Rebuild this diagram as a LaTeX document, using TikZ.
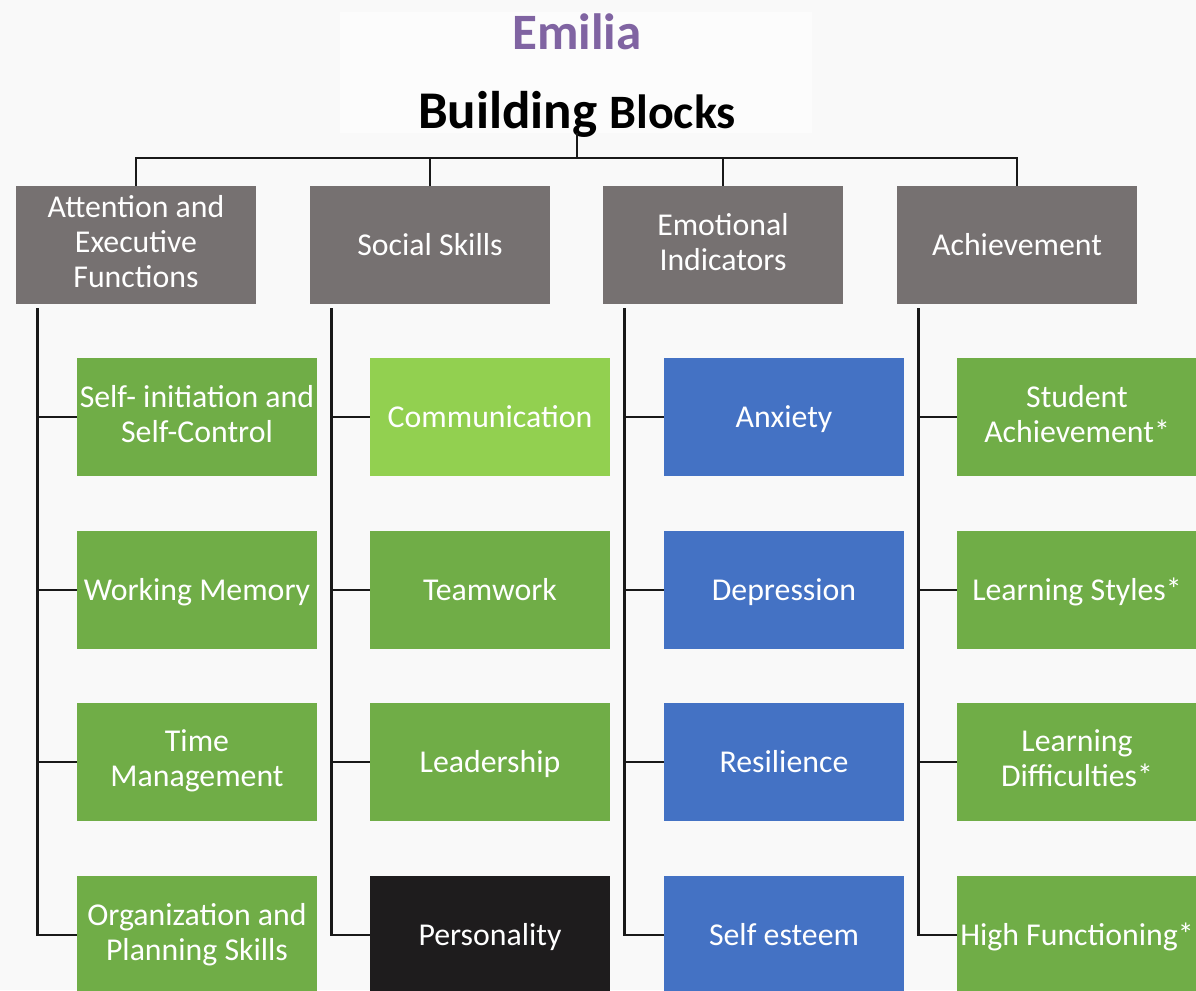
\documentclass[tikz,border=0pt]{standalone}
\usepackage{fontspec}
\setmainfont{Carlito}
\usetikzlibrary{positioning}
\usetikzlibrary{calc}

\definecolor{headgray}{HTML}{767171}
\definecolor{leafgreen}{HTML}{70AD47}
\definecolor{lightgreen}{HTML}{92D050}
\definecolor{leafblue}{HTML}{4472C4}
\definecolor{darkleaf}{HTML}{1E1C1D}
\definecolor{namepurple}{HTML}{8064A2}
\newcommand\boxstrut{\rule[-7pt]{0pt}{35pt}}

\begin{document}
\begin{tikzpicture}[x=1pt,y=-1pt,
    box/.style={minimum width=240pt,minimum height=118pt,inner sep=0pt,align=center,
                text=white,font=\fontsize{31.8}{35}\selectfont,
                execute at begin node=\boxstrut,execute at end node=\boxstrut},
    head/.style={box,fill=headgray},
    green/.style={box,fill=leafgreen},
    blue/.style={box,fill=leafblue},
    link/.style={line width=2.9pt,draw=black!90}]
    \useasboundingbox (0,0) rectangle (1196,990);
    \clip (0,0) rectangle (1196,990);
    \fill[black!2.5] (0,0) rectangle (1196,990);
    \fill[black!1.2] (340,12) rectangle (812,133);

    % title
    \node[text=namepurple,font=\fontsize{51}{55}\bfseries] (name) at (577,32) {Emilia};
    \node[font=\bfseries,inner sep=0pt] (title) at (577,114)
        {\fontsize{53}{58}\selectfont Building \fontsize{48}{58}\selectfont Blocks};
    \coordinate (hub) at (577,158);

    % categories
    \node[head] (att) at (136,245) {Attention and\\Executive\\Functions};
    \node[head] (soc) at (430,245) {Social Skills};
    \node[head] (emo) at (723,245) {Emotional\\Indicators};
    \node[head] (ach) at (1017,245) {Achievement};

    % attention and executive functions
    \node[green] (att1) at (197,417) {Self- initiation and\\Self-Control};
    \node[green] (att2) at (197,590) {Working Memory};
    \node[green] (att3) at (197,762) {Time\\Management};
    \node[green] (att4) at (197,935) {Organization and\\Planning Skills};

    % social skills
    \node[box,fill=lightgreen] (soc1) at (490,417) {Communication};
    \node[green] (soc2) at (490,590) {Teamwork};
    \node[green] (soc3) at (490,762) {Leadership};
    \node[box,fill=darkleaf] (soc4) at (490,935) {Personality};

    % emotional indicators
    \node[blue] (emo1) at (784,417) {Anxiety};
    \node[blue] (emo2) at (784,590) {Depression};
    \node[blue] (emo3) at (784,762) {Resilience};
    \node[blue] (emo4) at (784,935) {Self esteem};

    % achievement
    \node[green] (ach1) at (1077,417) {Student\\Achievement*};
    \node[green] (ach2) at (1077,590) {Learning Styles*};
    \node[green] (ach3) at (1077,762) {Learning\\Difficulties*};
    \node[green] (ach4) at (1077,935) {High Functioning*};

    % tree lines
    \draw[link] ($(title.south)+(0,-4)$) -- (hub);
    \draw[link] (att.north) |- (hub) -| (ach.north);
    \draw[link] (soc.north) -- (soc.north |- hub);
    \draw[link] (emo.north) -- (emo.north |- hub);
    \foreach \col in {att,soc,emo,ach}
        \foreach \i in {1,...,4}
            \draw[link] ($(\col.south west)+(22,4)$) |- (\col\i.west);
\end{tikzpicture}
\end{document}
